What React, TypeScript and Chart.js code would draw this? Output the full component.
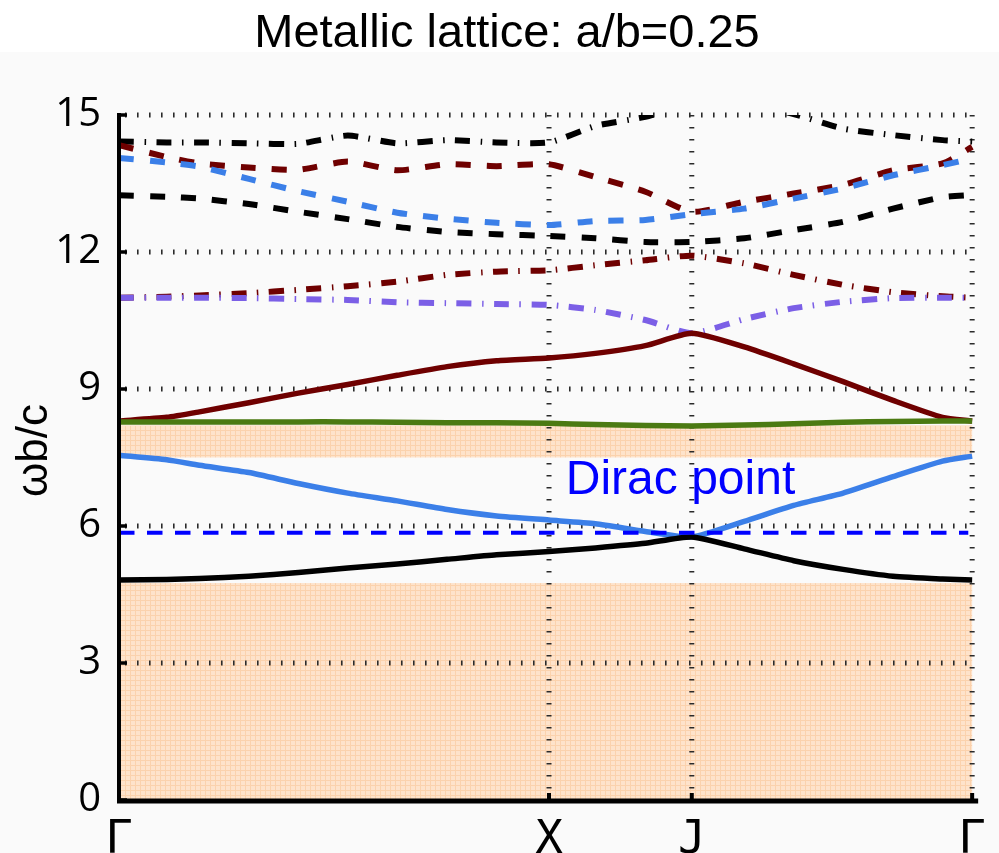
import { useEffect, useRef } from "react";
import { Chart, registerables } from "chart.js";

Chart.register(...registerables);

const titleText = "Metallic lattice: a/b=0.25";
const yAxisTitle = "ωb/c";
const diracLabel = "Dirac point";
const diracLabelPos = [1.039, 6.7];

const xTickPositions = [0, 1, 1.332, 1.984];
const xTickLabels = ["Γ", "X", "J", "Γ"];
const yTickValues = [0, 3, 6, 9, 12, 15];

// path coordinate (Γ-X distance = 1)
const kPath = [0, 0.111, 0.187, 0.302, 0.417, 0.532, 0.647, 0.763, 0.878, 1.0, 1.108, 1.224, 1.332, 1.454, 1.569, 1.684, 1.8, 1.915, 1.984];

const band1Solid = [4.82, 4.83, 4.85, 4.9, 4.98, 5.08, 5.17, 5.27, 5.37, 5.44, 5.52, 5.62, 5.76, 5.5, 5.24, 5.05, 4.9, 4.84, 4.82];
const band2Solid = [7.55, 7.45, 7.33, 7.17, 6.93, 6.72, 6.55, 6.36, 6.22, 6.13, 6.05, 5.88, 5.76, 6.1, 6.45, 6.72, 7.08, 7.42, 7.53];
const band3Green = [8.28, 8.28, 8.28, 8.28, 8.28, 8.28, 8.27, 8.26, 8.26, 8.25, 8.22, 8.2, 8.19, 8.21, 8.24, 8.27, 8.29, 8.3, 8.3];
const band4Maroon = [8.3, 8.38, 8.5, 8.7, 8.91, 9.1, 9.3, 9.49, 9.62, 9.68, 9.78, 9.95, 10.22, 9.92, 9.55, 9.16, 8.75, 8.38, 8.3];
const band5PurpleDD = [11.0, 11.0, 11.0, 10.99, 10.97, 10.95, 10.9, 10.88, 10.86, 10.84, 10.73, 10.51, 10.22, 10.53, 10.77, 10.91, 10.99, 11.0, 11.0];
const band6MaroonDD = [11.0, 11.02, 11.05, 11.1, 11.17, 11.25, 11.35, 11.5, 11.57, 11.6, 11.71, 11.82, 11.92, 11.75, 11.5, 11.28, 11.12, 11.03, 11.0];
const band7BlackDash = [13.24, 13.21, 13.17, 13.05, 12.88, 12.72, 12.55, 12.44, 12.39, 12.35, 12.3, 12.22, 12.22, 12.3, 12.48, 12.66, 12.95, 13.2, 13.25];
const band8BlueDash = [14.06, 13.96, 13.87, 13.6, 13.33, 13.1, 12.86, 12.73, 12.64, 12.59, 12.68, 12.7, 12.83, 12.95, 13.17, 13.39, 13.68, 13.9, 14.05];
const band9MaroonDash = [14.34, 14.08, 13.94, 13.85, 13.8, 13.98, 13.79, 13.92, 13.88, 13.92, 13.64, 13.32, 12.88, 13.1, 13.28, 13.47, 13.79, 13.94, 14.3];
const band10BlackDD = [14.42, 14.4, 14.4, 14.38, 14.37, 14.55, 14.38, 14.45, 14.4, 14.4, 14.76, 14.96, 15.25, 15.25, 15.02, 14.7, 14.56, 14.45, 14.42];

const diracK = [0, 1.975];
const diracLevel = [5.85, 5.85];

const gapLower = [0, 4.75];
const gapUpper = [7.5, 8.2];

const MAROON = "#6f0000";
const BLUE = "#3b7fe8";
const PURPLE = "#7b5fe6";
const GREEN = "#4b7a12";
const DASH = [15, 16];
const DASHDOT = [15, 10.5, 1.5, 10.5];

function pts(ys: number[]) {
  return ys.map((y, i) => ({ x: kPath[i], y }));
}

function makePattern(ctx: CanvasRenderingContext2D) {
  const c = document.createElement("canvas");
  c.width = 5;
  c.height = 5;
  const p = c.getContext("2d")!;
  p.fillStyle = "#fee3cb";
  p.fillRect(0, 0, 5, 5);
  p.fillStyle = "#fbd2ad";
  p.fillRect(0, 0, 5, 1);
  p.fillRect(0, 0, 1, 5);
  return ctx.createPattern(c, "repeat")!;
}

const decor = {
  id: "decor",
  beforeDraw(chart: any) {
    const ctx = chart.ctx as CanvasRenderingContext2D;
    ctx.save();
    ctx.fillStyle = "#ffffff";
    ctx.fillRect(0, 0, chart.width, chart.height);
    ctx.fillStyle = "#fafafa";
    ctx.fillRect(0, 52, chart.width, chart.height - 52);
    ctx.fillStyle = "#000";
    ctx.font = '47px "Liberation Sans", Arial, sans-serif';
    ctx.textAlign = "center";
    ctx.textBaseline = "alphabetic";
    ctx.fillText(titleText, 507, 47);
    ctx.restore();
  },
  beforeDatasetsDraw(chart: any) {
    const ctx = chart.ctx as CanvasRenderingContext2D;
    const xs = chart.scales.x;
    const ys = chart.scales.y;
    const { left, right, top, bottom } = chart.chartArea;
    ctx.save();
    const pat = makePattern(ctx);
    ctx.fillStyle = pat;
    for (const g of [gapLower, gapUpper]) {
      const y1 = ys.getPixelForValue(g[1]);
      const y0 = ys.getPixelForValue(g[0]);
      ctx.fillRect(left, y1, right - left, y0 - y1);
    }
    // dotted grid
    ctx.strokeStyle = "#2a2a2a";
    ctx.lineWidth = 5;
    ctx.setLineDash([1.6, 10.4]);
    for (const v of yTickValues) {
      if (v === 0) continue;
      const y = ys.getPixelForValue(v);
      ctx.beginPath();
      ctx.moveTo(left + 6, y);
      ctx.lineTo(right, y);
      ctx.stroke();
    }
    for (let i = 1; i < xTickPositions.length; i++) {
      const x = xs.getPixelForValue(xTickPositions[i]);
      ctx.beginPath();
      ctx.moveTo(x, top);
      ctx.lineTo(x, bottom);
      ctx.stroke();
    }
    ctx.restore();
  },
  afterDatasetsDraw(chart: any) {
    const ctx = chart.ctx as CanvasRenderingContext2D;
    const xs = chart.scales.x;
    const ys = chart.scales.y;
    const { left, right, top, bottom } = chart.chartArea;
    ctx.save();
    ctx.strokeStyle = "#000";
    ctx.setLineDash([]);
    ctx.lineCap = "butt";
    // y axis line
    ctx.lineWidth = 4;
    ctx.beginPath();
    ctx.moveTo(left, top - 2);
    ctx.lineTo(left, bottom + 3);
    ctx.stroke();
    // x axis line
    ctx.lineWidth = 5;
    ctx.beginPath();
    ctx.moveTo(left - 2, bottom + 1);
    ctx.lineTo(right + 6, bottom + 1);
    ctx.stroke();
    // y tick marks
    ctx.lineWidth = 3.5;
    for (const v of yTickValues) {
      const y = ys.getPixelForValue(v);
      ctx.beginPath();
      ctx.moveTo(left, y);
      ctx.lineTo(left + 8, y);
      ctx.stroke();
    }
    // x tick marks
    ctx.lineWidth = 4;
    for (let i = 1; i < xTickPositions.length; i++) {
      const x = xs.getPixelForValue(xTickPositions[i]);
      ctx.beginPath();
      ctx.moveTo(x, bottom - 7);
      ctx.lineTo(x, bottom);
      ctx.stroke();
    }
    // Dirac label
    ctx.fillStyle = "#0000ff";
    ctx.font = '48px "Liberation Sans", Arial, sans-serif';
    ctx.textAlign = "left";
    ctx.textBaseline = "alphabetic";
    ctx.fillText(diracLabel, xs.getPixelForValue(diracLabelPos[0]), ys.getPixelForValue(diracLabelPos[1]));
    // y axis title
    ctx.fillStyle = "#000";
    ctx.font = '44px "Liberation Sans", Arial, sans-serif';
    ctx.textAlign = "center";
    ctx.translate(47, (top + bottom) / 2 - 7);
    ctx.rotate(-Math.PI / 2);
    ctx.fillText(yAxisTitle, 0, 0);
    ctx.restore();
  },
};

function lineDs(data: number[], color: string, dash: number[], width: number) {
  return {
    data: pts(data),
    borderColor: color,
    borderWidth: width,
    borderDash: dash,
    pointRadius: 0,
    tension: 0.2,
    fill: false,
    clip: { left: 3, right: 3, top: 0, bottom: 3 },
  };
}

export default function App() {
  const ref = useRef<HTMLCanvasElement>(null);
  useEffect(() => {
    document.body.style.margin = "0";
    const chart = new Chart(ref.current!, {
      type: "line",
      data: {
        datasets: [
          {
            data: diracK.map((k, i) => ({ x: k, y: diracLevel[i] })),
            borderColor: "#0000ff",
            borderWidth: 4,
            borderDash: [15.5, 12.5],
            pointRadius: 0,
            fill: false,
          },
          lineDs(band1Solid, "#000000", [], 5.5),
          lineDs(band2Solid, BLUE, [], 5.5),
          lineDs(band3Green, GREEN, [], 5.5),
          lineDs(band4Maroon, MAROON, [], 5.5),
          lineDs(band5PurpleDD, PURPLE, DASHDOT, 6),
          lineDs(band6MaroonDD, MAROON, DASHDOT, 6),
          lineDs(band7BlackDash, "#000000", DASH, 6),
          lineDs(band8BlueDash, BLUE, DASH, 6),
          lineDs(band9MaroonDash, MAROON, DASH, 6),
          lineDs(band10BlackDD, "#000000", DASHDOT, 6),
        ] as any,
      },
      options: {
        animation: false,
        responsive: false,
        layout: { padding: { left: 0, right: 19, top: 115, bottom: 0 } },
        plugins: {
          legend: { display: false },
          title: { display: false },
          tooltip: { enabled: false },
        },
        scales: {
          x: {
            type: "linear",
            min: 0,
            max: 1.984,
            grid: { display: false, drawTicks: false },
            border: { display: false },
            afterFit: (s: any) => {
              s.height = 53;
            },
            afterBuildTicks: (s: any) => {
              s.ticks = xTickPositions.map((v) => ({ value: v }));
            },
            ticks: {
              autoSkip: false,
              maxRotation: 0,
              padding: 13,
              color: "#000",
              font: { family: '"DejaVu Sans Mono", monospace', size: 46 },
              callback: (_v: any, i: number) => xTickLabels[i],
            },
          },
          y: {
            type: "linear",
            min: 0,
            max: 15,
            grid: { display: false, drawTicks: false },
            border: { display: false },
            afterFit: (s: any) => {
              s.width = 119;
            },
            afterBuildTicks: (s: any) => {
              s.ticks = yTickValues.map((v) => ({ value: v }));
            },
            ticks: {
              padding: 18,
              color: "#000",
              font: { family: '"Open Sans", sans-serif', size: 40 },
            },
          },
        },
      },
      plugins: [decor],
    } as any);
    return () => chart.destroy();
  }, []);
  return (
    <div style={{ width: 999, height: 853 }}>
      <canvas ref={ref} width={999} height={853} style={{ display: "block" }} />
    </div>
  );
}
